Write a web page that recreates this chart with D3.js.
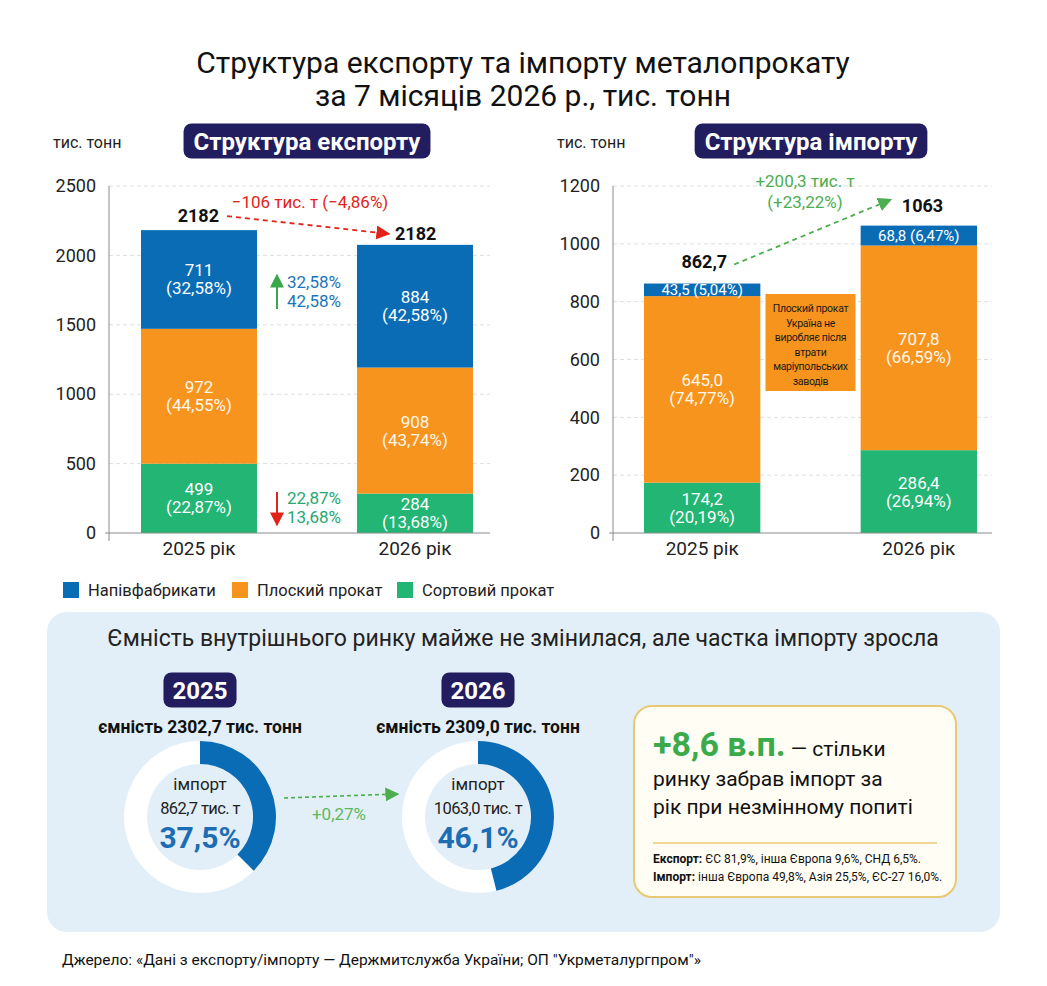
<!DOCTYPE html>
<html>
<head>
<meta charset="utf-8">
<script src="https://cdn.jsdelivr.net/npm/d3@7"></script>
<style>
body { margin: 0; background: #fff; }
svg { display: block; font-family: Roboto, "Noto Sans", sans-serif; }
</style>
</head>
<body>
<script>
// ---- data ----
var years = ["2025 рік", "2026 рік"];
var seriesKeys = ["sort", "flat", "semi"];
var legendNames = ["Напівфабрикати", "Плоский прокат", "Сортовий прокат"];
var legendKeys = ["semi", "flat", "sort"];

var exportSort = [499, 284];
var exportFlat = [972, 908];
var exportSemi = [711, 884];
var exportSortPct = ["22,87%", "13,68%"];
var exportFlatPct = ["44,55%", "43,74%"];
var exportSemiPct = ["32,58%", "42,58%"];
var exportTotalLabels = ["2182", "2182"];
var exportTicks = [0, 500, 1000, 1500, 2000, 2500];

var importSort = [174.2, 286.4];
var importFlat = [645.0, 707.8];
var importSemi = [43.5, 68.8];
var importSortPct = ["20,19%", "26,94%"];
var importFlatPct = ["74,77%", "66,59%"];
var importSemiPct = ["5,04%", "6,47%"];
var importTotalLabels = ["862,7", "1063"];
var importTicks = [0, 200, 400, 600, 800, 1000, 1200];

var marketYears = ["2025", "2026"];
var marketCapacity = [2302.7, 2309.0];
var marketImport = [862.7, 1063.0];
var marketImportShare = [37.5, 46.1];

var colors = { sort: "#22b573", flat: "#f7941e", semi: "#0b6cb6" };
var navy = "#221d5e";
var red = "#e2231a";
var green = "#4cae4f";

function comma1(v) { return d3.format(".1f")(v).replace(".", ","); }

var svg = d3.select("body").append("svg")
    .attr("width", 1047)
    .attr("height", 986);

var defs = svg.append("defs");
function marker(id, color) {
    defs.append("marker")
        .attr("id", id)
        .attr("viewBox", "0 0 10 10")
        .attr("refX", 9).attr("refY", 5)
        .attr("markerWidth", 14).attr("markerHeight", 14)
        .attr("markerUnits", "userSpaceOnUse")
        .attr("orient", "auto")
        .append("path")
        .attr("d", "M0,0 L10,5 L0,10 z")
        .attr("fill", color);
}
marker("arRed", red);
marker("arGreen", green);
marker("arGreen2", "#3aa84a");

// ---- title ----
svg.append("text").attr("x", 523).attr("y", 73)
    .attr("text-anchor", "middle").attr("font-size", 30).attr("fill", "#111")
    .text("Структура експорту та імпорту металопрокату");
svg.append("text").attr("x", 523).attr("y", 106)
    .attr("text-anchor", "middle").attr("font-size", 30).attr("fill", "#111")
    .text("за 7 місяців 2026 р., тис. тонн");

function pill(g, cx, cy, txt, size, padX, h) {
    var pg = g.append("g");
    var r = pg.append("rect");
    var t = pg.append("text").attr("x", cx).attr("y", cy + size * 0.36)
        .attr("text-anchor", "middle").attr("font-size", size)
        .attr("font-weight", 700).attr("fill", "#fff").text(txt);
    var w = t.node().getComputedTextLength() + padX * 2;
    r.attr("x", cx - w / 2).attr("y", cy - h / 2)
        .attr("width", w).attr("height", h)
        .attr("rx", 8).attr("fill", navy);
}

// ---- stacked bar chart ----
function stackedChart(cfg) {
    var g = svg.append("g");
    var rows = years.map(function(y, i) {
        return { year: y, sort: cfg.sort[i], flat: cfg.flat[i], semi: cfg.semi[i],
                 pct: { sort: cfg.sortPct[i], flat: cfg.flatPct[i], semi: cfg.semiPct[i] } };
    });
    var x = d3.scaleBand().domain(years).range(cfg.barRange).paddingInner(0.463);
    var y = d3.scaleLinear().domain([0, d3.max(cfg.ticks)]).range([533, 186]);

    // grid
    g.selectAll(".grid").data(cfg.ticks.slice(1)).enter().append("line")
        .attr("x1", cfg.axisX).attr("x2", cfg.axisEnd)
        .attr("y1", function(d) { return y(d); }).attr("y2", function(d) { return y(d); })
        .attr("stroke", "#dedede").attr("stroke-dasharray", "4,3");

    var ya = g.append("g").attr("transform", "translate(" + cfg.axisX + ",0)")
        .call(d3.axisLeft(y).tickValues(cfg.ticks).tickFormat(d3.format("d")).tickSize(0).tickPadding(13));
    ya.select(".domain").remove();
    ya.attr("font-size", 18).attr("font-family", "Roboto, sans-serif");
    ya.selectAll("text").attr("fill", "#222");

    var stack = d3.stack().keys(seriesKeys)(rows);
    var layers = g.selectAll(".layer").data(stack).enter().append("g")
        .attr("fill", function(d) { return colors[d.key]; });
    layers.selectAll("rect").data(function(d) { return d; }).enter().append("rect")
        .attr("x", function(d) { return x(d.data.year); })
        .attr("width", x.bandwidth())
        .attr("y", function(d) { return y(d[1]); })
        .attr("height", function(d) { return y(d[0]) - y(d[1]); });

    // segment labels
    stack.forEach(function(layer) {
        layer.forEach(function(d) {
            var cx = x(d.data.year) + x.bandwidth() / 2;
            var cy = (y(d[0]) + y(d[1])) / 2;
            var v = cfg.fmt(d.data[layer.key]);
            var p = "(" + d.data.pct[layer.key] + ")";
            var lab = g.append("text").attr("text-anchor", "middle")
                .attr("fill", layer.key === "flat" ? "#fff7ea" : "#fff");
            if (cfg.singleLine && layer.key === "semi") {
                lab.attr("x", cx).attr("y", cy + 5.5).attr("font-size", 15).text(v + " " + p);
            } else {
                lab.attr("font-size", 17);
                lab.append("tspan").attr("x", cx).attr("y", cy - 3).text(v);
                lab.append("tspan").attr("x", cx).attr("y", cy + 15).text(p);
            }
        });
    });

    // axes lines
    g.append("line").attr("x1", cfg.axisX).attr("x2", cfg.axisX)
        .attr("y1", 186).attr("y2", 541).attr("stroke", "#8a8a8a");
    g.append("line").attr("x1", cfg.axisX - 4).attr("x2", cfg.axisEnd)
        .attr("y1", 533).attr("y2", 533).attr("stroke", "#8a8a8a");

    var xa = g.append("g").attr("transform", "translate(0,533)")
        .call(d3.axisBottom(x).tickSize(0).tickPadding(9));
    xa.select(".domain").remove();
    xa.attr("font-size", 19).attr("font-family", "Roboto, sans-serif");
    xa.selectAll("text").attr("fill", "#222");

    g.append("text").attr("x", cfg.axisX - 56).attr("y", 148)
        .attr("font-size", 16).attr("fill", "#222").text("тис. тонн");
    pill(g, cfg.pillX, 141, cfg.pillText, 24, 10, 35);

    var totals = rows.map(function(r) { return r.sort + r.flat + r.semi; });
    return { g: g, x: x, y: y, totals: totals };
}

// export chart
var ex = stackedChart({
    sort: exportSort, flat: exportFlat, semi: exportSemi,
    sortPct: exportSortPct, flatPct: exportFlatPct, semiPct: exportSemiPct,
    ticks: exportTicks, axisX: 109, axisEnd: 490, barRange: [141, 473],
    pillX: 307, pillText: "Структура експорту",
    fmt: function(v) { return d3.format("d")(v); }
});
(function() {
    var g = ex.g, x = ex.x, y = ex.y;
    var c1 = x(years[0]) + x.bandwidth() / 2, c2 = x(years[1]) + x.bandwidth() / 2;
    var b1 = y(ex.totals[0]) - 8, b2 = y(ex.totals[1]) - 5;
    g.append("text").attr("x", c1 + 20).attr("y", b1).attr("text-anchor", "end")
        .attr("font-size", 18).attr("font-weight", 700).attr("fill", "#111").text(exportTotalLabels[0]);
    g.append("text").attr("x", c2 - 20).attr("y", b2)
        .attr("font-size", 18).attr("font-weight", 700).attr("fill", "#111").text(exportTotalLabels[1]);
    g.append("line").attr("x1", c1 + 28).attr("y1", b1 - 6).attr("x2", c2 - 26).attr("y2", b2 - 6)
        .attr("stroke", red).attr("stroke-width", 1.8).attr("stroke-dasharray", "5,4")
        .attr("marker-end", "url(#arRed)");
    g.append("text").attr("x", (c1 + c2) / 2 + 3).attr("y", 208).attr("text-anchor", "middle")
        .attr("font-size", 17).attr("fill", red).text("−106 тис. т (−4,86%)");

    var mx = (x(years[0]) + x.bandwidth() + x(years[1])) / 2 - 30;
    g.append("line").attr("x1", mx).attr("x2", mx).attr("y1", 309).attr("y2", 275)
        .attr("stroke", "#3aa84a").attr("stroke-width", 2).attr("marker-end", "url(#arGreen2)");
    var t1 = g.append("text").attr("font-size", 17).attr("fill", "#1b75bb");
    t1.append("tspan").attr("x", mx + 10).attr("y", 288).text(exportSemiPct[0]);
    t1.append("tspan").attr("x", mx + 10).attr("y", 307).text(exportSemiPct[1]);

    g.append("line").attr("x1", mx).attr("x2", mx).attr("y1", 492).attr("y2", 525)
        .attr("stroke", red).attr("stroke-width", 2).attr("marker-end", "url(#arRed)");
    var t2 = g.append("text").attr("font-size", 17).attr("fill", "#27a870");
    t2.append("tspan").attr("x", mx + 10).attr("y", 504).text(exportSortPct[0]);
    t2.append("tspan").attr("x", mx + 10).attr("y", 523).text(exportSortPct[1]);
})();

// import chart
var im = stackedChart({
    sort: importSort, flat: importFlat, semi: importSemi,
    sortPct: importSortPct, flatPct: importFlatPct, semiPct: importSemiPct,
    ticks: importTicks, axisX: 613, axisEnd: 992, barRange: [644, 977],
    pillX: 811, pillText: "Структура імпорту", singleLine: true,
    fmt: comma1
});
(function() {
    var g = im.g, x = im.x, y = im.y;
    var c1 = x(years[0]) + x.bandwidth() / 2, c2 = x(years[1]) + x.bandwidth() / 2;
    var b1 = y(im.totals[0]) - 16, b2 = y(im.totals[1]) - 14;
    g.append("text").attr("x", c1 + 25).attr("y", b1).attr("text-anchor", "end")
        .attr("font-size", 18).attr("font-weight", 700).attr("fill", "#111").text(importTotalLabels[0]);
    g.append("text").attr("x", c2 - 17).attr("y", b2)
        .attr("font-size", 18).attr("font-weight", 700).attr("fill", "#111").text(importTotalLabels[1]);
    g.append("line").attr("x1", c1 + 32).attr("y1", b1 - 3).attr("x2", c2 - 28).attr("y2", b2 - 12)
        .attr("stroke", green).attr("stroke-width", 1.8).attr("stroke-dasharray", "5,4")
        .attr("marker-end", "url(#arGreen)");
    var t = g.append("text").attr("text-anchor", "middle").attr("font-size", 17).attr("fill", green);
    t.append("tspan").attr("x", 805).attr("y", 187).text("+200,3 тис. т");
    t.append("tspan").attr("x", 805).attr("y", 208).text("(+23,22%)");

    // note box
    var bx = (x(years[0]) + x.bandwidth() + x(years[1])) / 2;
    g.append("rect").attr("x", bx - 45).attr("y", 294).attr("width", 90).attr("height", 97)
        .attr("fill", colors.flat);
    var noteLines = ["Плоский прокат", "Україна не", "виробляє після", "втрати", "маріупольських", "заводів"];
    var nt = g.append("text").attr("text-anchor", "middle").attr("font-size", 10.5)
        .attr("letter-spacing", -0.3).attr("fill", "#1a1a1a");
    noteLines.forEach(function(l, i) {
        nt.append("tspan").attr("x", bx).attr("y", 312 + i * 14.6).text(l);
    });
})();

// ---- legend ----
var leg = svg.append("g").attr("transform", "translate(63,582)");
var legX = [0, 169, 334];
legendKeys.forEach(function(k, i) {
    leg.append("rect").attr("x", legX[i]).attr("y", 0).attr("width", 16).attr("height", 16)
        .attr("fill", colors[k]);
    leg.append("text").attr("x", legX[i] + 25).attr("y", 14).attr("font-size", 16.5)
        .attr("fill", "#222").text(legendNames[i]);
});

// ---- market panel ----
svg.append("rect").attr("x", 47).attr("y", 612).attr("width", 953).attr("height", 320)
    .attr("rx", 20).attr("fill", "#e3eff8");
svg.append("text").attr("x", 523).attr("y", 646).attr("text-anchor", "middle")
    .attr("font-size", 23).attr("fill", "#222")
    .text("Ємність внутрішнього ринку майже не змінилася, але частка імпорту зросла");

var mx = d3.scalePoint().domain(marketYears).range([200, 478]);
var arcBg = d3.arc().innerRadius(53).outerRadius(76).startAngle(0).endAngle(2 * Math.PI);
var arcFg = d3.arc().innerRadius(53).outerRadius(76).startAngle(0);
marketYears.forEach(function(yr, i) {
    var cx = mx(yr), cy = 817;
    var g = svg.append("g");
    pill(g, cx, 690, yr, 24, 9, 35);
    g.append("text").attr("x", cx).attr("y", 733).attr("text-anchor", "middle")
        .attr("font-size", 17.5).attr("font-weight", 700).attr("fill", "#111")
        .text("ємність " + comma1(marketCapacity[i]) + " тис. тонн");
    var dg = g.append("g").attr("transform", "translate(" + cx + "," + cy + ")");
    dg.append("path").attr("d", arcBg()).attr("fill", "#fff");
    dg.append("path").attr("d", arcFg({ endAngle: marketImportShare[i] / 100 * 2 * Math.PI }))
        .attr("fill", "#0b6cb6");
    dg.append("text").attr("y", -27).attr("text-anchor", "middle").attr("font-size", 17)
        .attr("fill", "#222").text("імпорт");
    dg.append("text").attr("y", -3).attr("text-anchor", "middle").attr("font-size", 16.5)
        .attr("letter-spacing", -0.6).attr("fill", "#222").text(comma1(marketImport[i]) + " тис. т");
    dg.append("text").attr("y", 31).attr("text-anchor", "middle").attr("font-size", 30)
        .attr("font-weight", 700).attr("fill", "#1c6db4").text(comma1(marketImportShare[i]) + "%");
});
svg.append("line").attr("x1", mx(marketYears[0]) + 84).attr("y1", 798)
    .attr("x2", mx(marketYears[1]) - 80).attr("y2", 794)
    .attr("stroke", green).attr("stroke-width", 1.6).attr("stroke-dasharray", "4,3")
    .attr("marker-end", "url(#arGreen)");
svg.append("text").attr("x", (mx(marketYears[0]) + mx(marketYears[1])) / 2).attr("y", 820)
    .attr("text-anchor", "middle").attr("font-size", 17).attr("fill", "#5cb85c").text("+0,27%");

// ---- info card ----
var card = svg.append("g");
card.append("rect").attr("x", 634).attr("y", 706).attr("width", 322).attr("height", 191)
    .attr("rx", 18).attr("fill", "#fffdf4").attr("stroke", "#e9c874").attr("stroke-width", 2);
var h = card.append("text").attr("x", 653).attr("y", 756);
h.append("tspan").attr("font-size", 34).attr("font-weight", 700).attr("fill", "#3aaa4a").text("+8,6 в.п.");
h.append("tspan").attr("font-size", 21).attr("fill", "#111").text(" — стільки");
card.append("text").attr("x", 653).attr("y", 786).attr("font-size", 21).attr("fill", "#111")
    .text("ринку забрав імпорт за");
card.append("text").attr("x", 653).attr("y", 814).attr("font-size", 21).attr("fill", "#111")
    .text("рік при незмінному попиті");
card.append("line").attr("x1", 653).attr("x2", 937).attr("y1", 843).attr("y2", 843)
    .attr("stroke", "#e9c874").attr("stroke-width", 1.5);
var s1 = card.append("text").attr("x", 653).attr("y", 863).attr("font-size", 12).attr("fill", "#111");
s1.append("tspan").attr("font-weight", 700).text("Експорт:");
s1.append("tspan").text(" ЄС 81,9%, інша Європа 9,6%, СНД 6,5%.");
var s2 = card.append("text").attr("x", 653).attr("y", 881).attr("font-size", 12).attr("fill", "#111");
s2.append("tspan").attr("font-weight", 700).text("Імпорт:");
s2.append("tspan").text(" інша Європа 49,8%, Азія 25,5%, ЄС-27 16,0%.");

// ---- source ----
svg.append("text").attr("x", 62).attr("y", 965).attr("font-size", 15.5).attr("fill", "#111")
    .text("Джерело: «Дані з експорту/імпорту — Держмитслужба України; ОП \"Укрметалургпром\"»");
</script>
</body>
</html>
